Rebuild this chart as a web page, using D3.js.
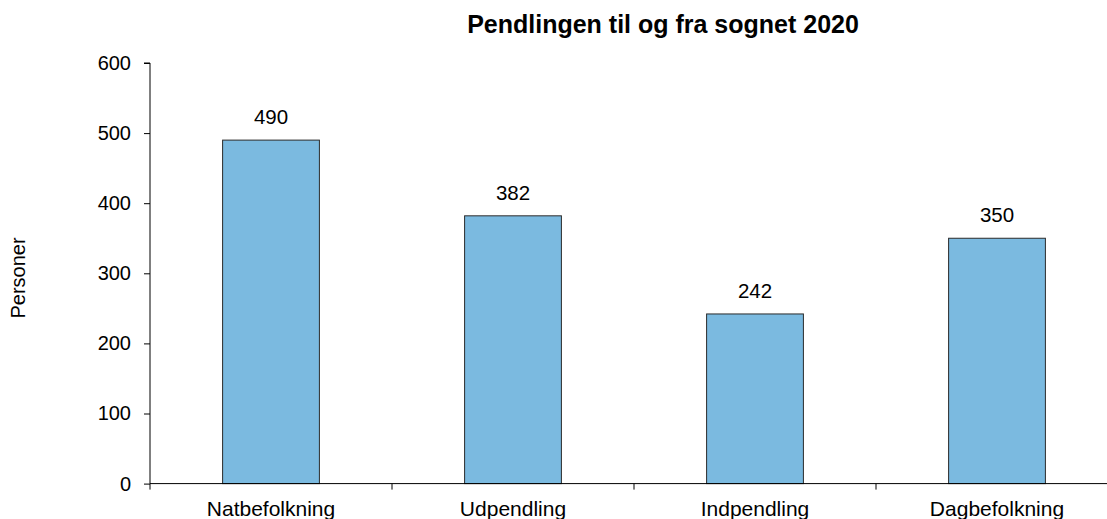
<!DOCTYPE html>
<html>
<head>
<meta charset="utf-8">
<script src="https://cdn.jsdelivr.net/npm/d3@7"></script>
<style>
  body { margin: 0; background: #fff; }
  svg { font-family: "Liberation Sans", Arial, sans-serif; }
</style>
</head>
<body>
<svg id="chart" width="1107" height="519"></svg>
<script>
const categories = ["Natbefolkning", "Udpendling", "Indpendling", "Dagbefolkning"];
const values = [490, 382, 242, 350];
const yTicks = [0, 100, 200, 300, 400, 500, 600];
const title = "Pendlingen til og fra sognet 2020";
const yLabel = "Personer";

const svg = d3.select("#chart");
const margin = {left: 150, top: 63, bottom: 35};
const plotW = 968;

const x = d3.scaleBand().domain(categories).range([margin.left, margin.left + plotW]).padding(0);
const y = d3.scaleLinear().domain([0, 600]).range([483.6, margin.top]);
const barW = x.bandwidth() * 0.4;

// bars
svg.append("g").selectAll("rect").data(values).join("rect")
    .attr("x", (d, i) => x(categories[i]) + (x.bandwidth() - barW) / 2)
    .attr("y", d => y(d))
    .attr("width", barW)
    .attr("height", d => y(0) - y(d))
    .attr("fill", "#7bbae0")
    .attr("stroke", "#2b2b2b")
    .attr("stroke-width", 1);

// value labels
svg.append("g").selectAll("text").data(values).join("text")
    .attr("x", (d, i) => x(categories[i]) + x.bandwidth() / 2)
    .attr("y", d => y(d) - 16)
    .attr("text-anchor", "middle")
    .attr("font-size", 20.5)
    .text(d => d);

// y axis
const yAxis = svg.append("g").attr("transform", `translate(${margin.left},0)`)
    .call(d3.axisLeft(y).tickValues(yTicks).tickSize(6).tickPadding(13));
yAxis.select(".domain").attr("stroke", "#000").attr("d", `M-6,${y(600)}H0V${y(0)}`);
yAxis.selectAll(".tick line").attr("stroke", "#000");
yAxis.selectAll(".tick text").attr("font-size", 20).attr("fill", "#000")
    .attr("font-family", "Liberation Sans, Arial, sans-serif");

// x axis
const xTickPos = d3.range(categories.length + 1).map(i => margin.left + i * x.bandwidth());
const xAxis = svg.append("g").attr("transform", `translate(0,${y(0)})`);
xAxis.append("line").attr("x1", margin.left).attr("x2", margin.left + plotW)
    .attr("stroke", "#000");
xAxis.selectAll("line.tk").data(xTickPos).join("line").attr("class", "tk")
    .attr("x1", d => d).attr("x2", d => d).attr("y1", 0).attr("y2", 6)
    .attr("stroke", "#000");
xAxis.selectAll("text").data(categories).join("text")
    .attr("x", d => x(d) + x.bandwidth() / 2)
    .attr("y", 32.5)
    .attr("text-anchor", "middle")
    .attr("font-size", 21)
    .text(d => d);

// title
svg.append("text").attr("x", 663).attr("y", 33)
    .attr("text-anchor", "middle")
    .attr("font-size", 25).attr("font-weight", "bold")
    .text(title);

// y label
svg.append("text").attr("transform", "translate(25,278) rotate(-90)")
    .attr("text-anchor", "middle")
    .attr("font-size", 20)
    .text(yLabel);
</script>
</body>
</html>
